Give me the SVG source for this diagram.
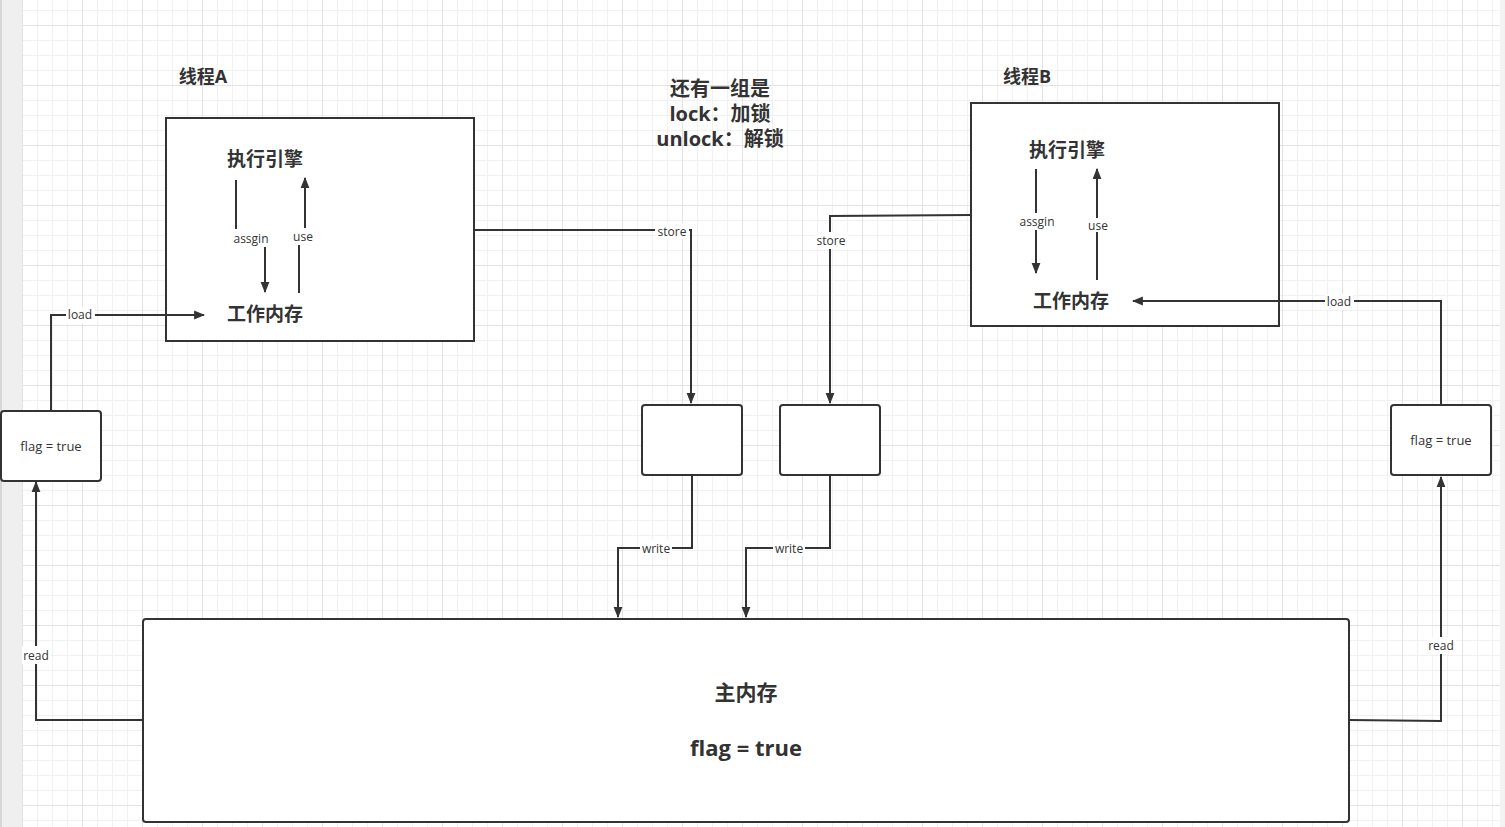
<svg xmlns="http://www.w3.org/2000/svg" width="1505" height="827" viewBox="0 0 1505 827">
<defs>
<pattern id="grid" patternUnits="userSpaceOnUse" x="22" y="25" width="60" height="60">
<path d="M15.5 0V60M30.5 0V60M45.5 0V60M0 15.5H60M0 30.5H60M0 45.5H60" stroke="#f1f1f1" stroke-width="1" fill="none"/>
<path d="M0.5 0V60M0 0.5H60" stroke="#e3e3e3" stroke-width="1" fill="none"/>
</pattern>
<marker id="ah" viewBox="0 0 10 10" refX="9" refY="5" markerWidth="11" markerHeight="11" markerUnits="userSpaceOnUse" orient="auto">
<path d="M0 1L10 5L0 9Z" fill="#333"/>
</marker>
<style>
.box{fill:#fff;stroke:#333;stroke-width:2}
.ln{fill:none;stroke:#333;stroke-width:2}
.t{font-family:"Open Sans","Noto Sans CJK SC",sans-serif;fill:#333;text-anchor:middle;dominant-baseline:central}
.b{font-weight:bold}
.lbl{font-size:12px}
.lbg{fill:#fff}
</style>
</defs>
<rect width="1505" height="827" fill="#fff"/>
<rect x="22" y="0" width="1478" height="827" fill="url(#grid)"/>
<rect x="0" y="0" width="22" height="827" fill="#efefef"/>
<rect x="0" y="0" width="2" height="827" fill="#d6d6d6"/>
<rect x="1500" y="0" width="5" height="827" fill="#f3f3f3"/>

<g id="threadA">
<rect class="box" x="166" y="118" width="308" height="223"/>
<text class="t b" x="203" y="76" font-size="18">线程A</text>
<text class="t b" x="265" y="159" font-size="19">执行引擎</text>
<text class="t b" x="265" y="314" font-size="19">工作内存</text>
</g>
<g id="threadB">
<rect class="box" x="971" y="103" width="308" height="223"/>
<text class="t b" x="1027" y="76" font-size="18">线程B</text>
<text class="t b" x="1067" y="150" font-size="19">执行引擎</text>
<text class="t b" x="1071" y="301" font-size="19">工作内存</text>
</g>
<g id="note">
<text class="t b" x="720" y="88" font-size="20">还有一组是</text>
<text class="t b" x="720" y="113" font-size="20">lock：加锁</text>
<text class="t b" x="720" y="138" font-size="20">unlock：解锁</text>
</g>
<g id="flagA">
<rect class="box" x="1" y="411" width="100" height="70" rx="3"/>
<text class="t" x="51" y="446" font-size="13">flag = true</text>
</g>
<g id="flagB">
<rect class="box" x="1391" y="405" width="100" height="70" rx="3"/>
<text class="t" x="1441" y="440" font-size="13">flag = true</text>
</g>
<g id="buf1">
<rect class="box" x="642" y="405" width="100" height="70" rx="3"/>
</g>
<g id="buf2">
<rect class="box" x="780" y="405" width="100" height="70" rx="3"/>
</g>
<g id="main">
<rect class="box" x="143" y="619" width="1206" height="203" rx="3"/>
<text class="t b" x="746" y="692" font-size="21">主内存</text>
<text class="t b" x="746" y="747" font-size="22">flag = true</text>
</g>

<g id="connectors">
<path class="ln" d="M236 180V239H265V292" marker-end="url(#ah)"/>
<path class="ln" d="M299 293V237H305V178" marker-end="url(#ah)"/>
<path class="ln" d="M1036 169V273" marker-end="url(#ah)"/>
<path class="ln" d="M1097 280V169" marker-end="url(#ah)"/>
<path class="ln" d="M51 411V315H204" marker-end="url(#ah)"/>
<path class="ln" d="M143 720H36V482" marker-end="url(#ah)"/>
<path class="ln" d="M474 230H691V403" marker-end="url(#ah)"/>
<path class="ln" d="M971 215L830 216V403" marker-end="url(#ah)"/>
<path class="ln" d="M692 475V548H618V617" marker-end="url(#ah)"/>
<path class="ln" d="M830 475V548H746V617" marker-end="url(#ah)"/>
<path class="ln" d="M1349 720L1441 721V477" marker-end="url(#ah)"/>
<path class="ln" d="M1441 405V301H1133" marker-end="url(#ah)"/>

<rect class="lbg" x="230" y="229" width="43" height="18"/>
<text class="t lbl" x="251" y="238">assgin</text>
<rect class="lbg" x="291" y="228" width="25" height="17"/>
<text class="t lbl" x="303" y="236">use</text>
<rect class="lbg" x="1016" y="213" width="42" height="17"/>
<text class="t lbl" x="1037" y="221">assgin</text>
<rect class="lbg" x="1086" y="218" width="24" height="14"/>
<text class="t lbl" x="1098" y="225">use</text>
<rect class="lbg" x="66" y="307" width="29" height="16"/>
<text class="t lbl" x="80" y="314">load</text>
<rect class="lbg" x="1325" y="294" width="29" height="16"/>
<text class="t lbl" x="1339" y="301">load</text>
<rect class="lbg" x="22" y="646" width="29" height="18"/>
<text class="t lbl" x="36" y="655">read</text>
<rect class="lbg" x="1427" y="637" width="29" height="17"/>
<text class="t lbl" x="1441" y="645">read</text>
<rect class="lbg" x="655" y="223" width="34" height="16"/>
<text class="t lbl" x="672" y="231">store</text>
<rect class="lbg" x="814" y="232" width="34" height="17"/>
<text class="t lbl" x="831" y="240">store</text>
<rect class="lbg" x="640" y="540" width="32" height="16"/>
<text class="t lbl" x="656" y="548">write</text>
<rect class="lbg" x="773" y="540" width="32" height="16"/>
<text class="t lbl" x="789" y="548">write</text>
</g>
</svg>
